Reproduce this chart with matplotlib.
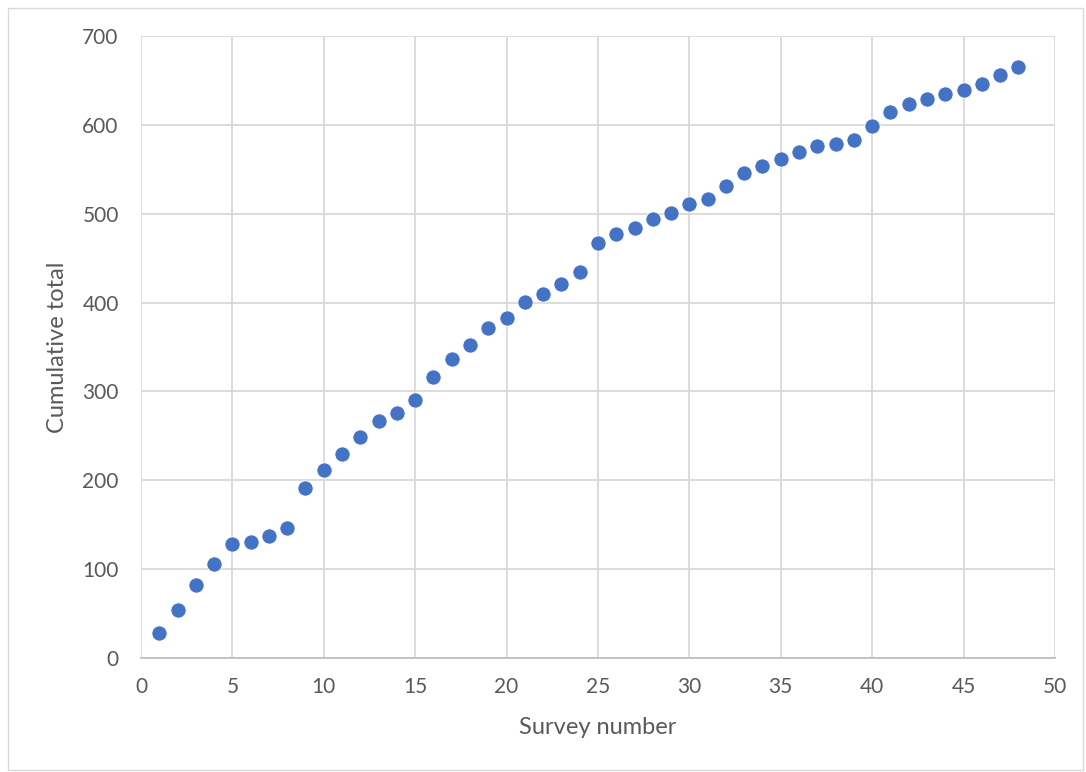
import matplotlib
matplotlib.use("Agg")
import matplotlib.pyplot as plt
from matplotlib.patches import Rectangle

# Survey number vs cumulative total
survey = list(range(1, 49))
cumulative = [
    28, 54, 82, 106, 128, 130, 137, 146, 191, 212,
    230, 249, 267, 276, 290, 316, 337, 352, 371, 383,
    401, 410, 421, 434, 467, 477, 484, 494, 501, 511,
    517, 531, 546, 554, 562, 569, 576, 578, 583, 599,
    614, 623, 629, 635, 639, 646, 656, 665,
]

plt.rcParams["font.family"] = ["Lato", "DejaVu Sans"]

fig = plt.figure(figsize=(10.86, 7.72), dpi=100)
ax = fig.add_axes([0.1298, 0.1477, 0.8416, 0.8057])

ax.scatter(survey, cumulative, s=120, color="#4472C4",
           edgecolors="white", linewidths=0.6, zorder=3)

ax.set_xlim(0, 50)
ax.set_ylim(0, 700)
ax.set_xticks(range(0, 51, 5))
ax.set_yticks(range(0, 701, 100))
ax.grid(True, color="#D9D9D9", linewidth=1.3)
ax.set_axisbelow(True)
for side in ("top", "right", "left"):
    ax.spines[side].set_visible(False)
ax.spines["bottom"].set_color("#BFBFBF")
ax.spines["bottom"].set_linewidth(1.3)
ax.tick_params(length=0, labelsize=15, colors="#595959")
ax.tick_params(axis="y", pad=16)
ax.tick_params(axis="x", pad=14)

ax.set_xlabel("Survey number", fontsize=17, color="#595959", labelpad=14)
ax.set_ylabel("Cumulative total", fontsize=17, color="#595959", labelpad=10)

# light chart-area border
fig.patches.append(Rectangle((0.007, 0.003), 0.99, 0.987, transform=fig.transFigure,
                             fill=False, edgecolor="#D9D9D9", linewidth=1))

fig.savefig("out.png", dpi=100)
